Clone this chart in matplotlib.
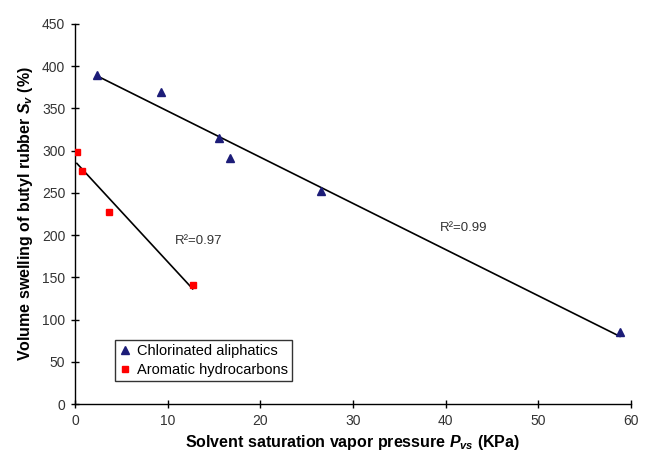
import matplotlib
matplotlib.use("Agg")
import matplotlib.pyplot as plt
import numpy as np

plt.rcParams['font.family'] = ['Liberation Sans', 'DejaVu Sans']
plt.rcParams['mathtext.fontset'] = 'custom'
plt.rcParams['mathtext.rm'] = 'Liberation Sans:bold'
plt.rcParams['mathtext.it'] = 'Liberation Sans:bold:italic'
plt.rcParams['mathtext.bf'] = 'Liberation Sans:bold'

# Data
chlor_x = [2.4, 9.3, 15.5, 16.7, 26.5, 58.8]
chlor_y = [390, 370, 315, 291, 252, 85]
arom_x = [0.2, 0.75, 3.7, 12.7]
arom_y = [299, 276, 227, 141]
series_labels = ["Chlorinated aliphatics", "Aromatic hydrocarbons"]
r2_labels = ["R²=0.99", "R²=0.97"]

fig = plt.figure(figsize=(6.45, 4.55), dpi=100)
ax = fig.add_axes([75/645, 51/455, 556/645, 380/455])

ax.plot(chlor_x, chlor_y, linestyle='none', marker='^', color='#1c1c78',
        markersize=6, label=series_labels[0], zorder=3)
ax.plot(arom_x, arom_y, linestyle='none', marker='s', color='#ff0000',
        markersize=4.5, label=series_labels[1], zorder=3)

for xs, ys in [(chlor_x, chlor_y), (arom_x, arom_y)]:
    m, b = np.polyfit(xs, ys, 1)
    xx = np.array([min(xs), max(xs)])
    ax.plot(xx, m * xx + b, color='black', linewidth=1.2, zorder=2)

ax.text(39.4, 209, r2_labels[0], fontsize=9.5, color='#333333', ha='left', va='center')
ax.text(10.8, 193, r2_labels[1], fontsize=9.5, color='#333333', ha='left', va='center')

ax.set_xlim(0, 60)
ax.set_ylim(0, 450)
ax.set_xticks(range(0, 61, 10))
ax.set_yticks(range(0, 451, 50))
ax.spines['top'].set_visible(False)
ax.spines['right'].set_visible(False)
for s in ['left', 'bottom']:
    ax.spines[s].set_linewidth(1.0)
ax.tick_params(direction='inout', length=6, width=1.0, labelsize=10, labelcolor='#333333', pad=4)

ax.set_xlabel(r"Solvent saturation vapor pressure $P_{vs}$ (KPa)", fontsize=11.5, fontweight='bold', labelpad=4)
ax.set_ylabel(r"Volume swelling of butyl rubber $S_v$ (%)", fontsize=11.5, fontweight='bold', labelpad=5)

leg = ax.legend(loc='lower left', bbox_to_anchor=(0.072, 0.06), fontsize=10.5, frameon=True,
                fancybox=False, edgecolor='black', handlelength=0.8, handletextpad=0.4,
                borderpad=0.3, labelspacing=0.3, borderaxespad=0)
leg.get_frame().set_linewidth(1.0)

fig.savefig("out.png", dpi=100)
